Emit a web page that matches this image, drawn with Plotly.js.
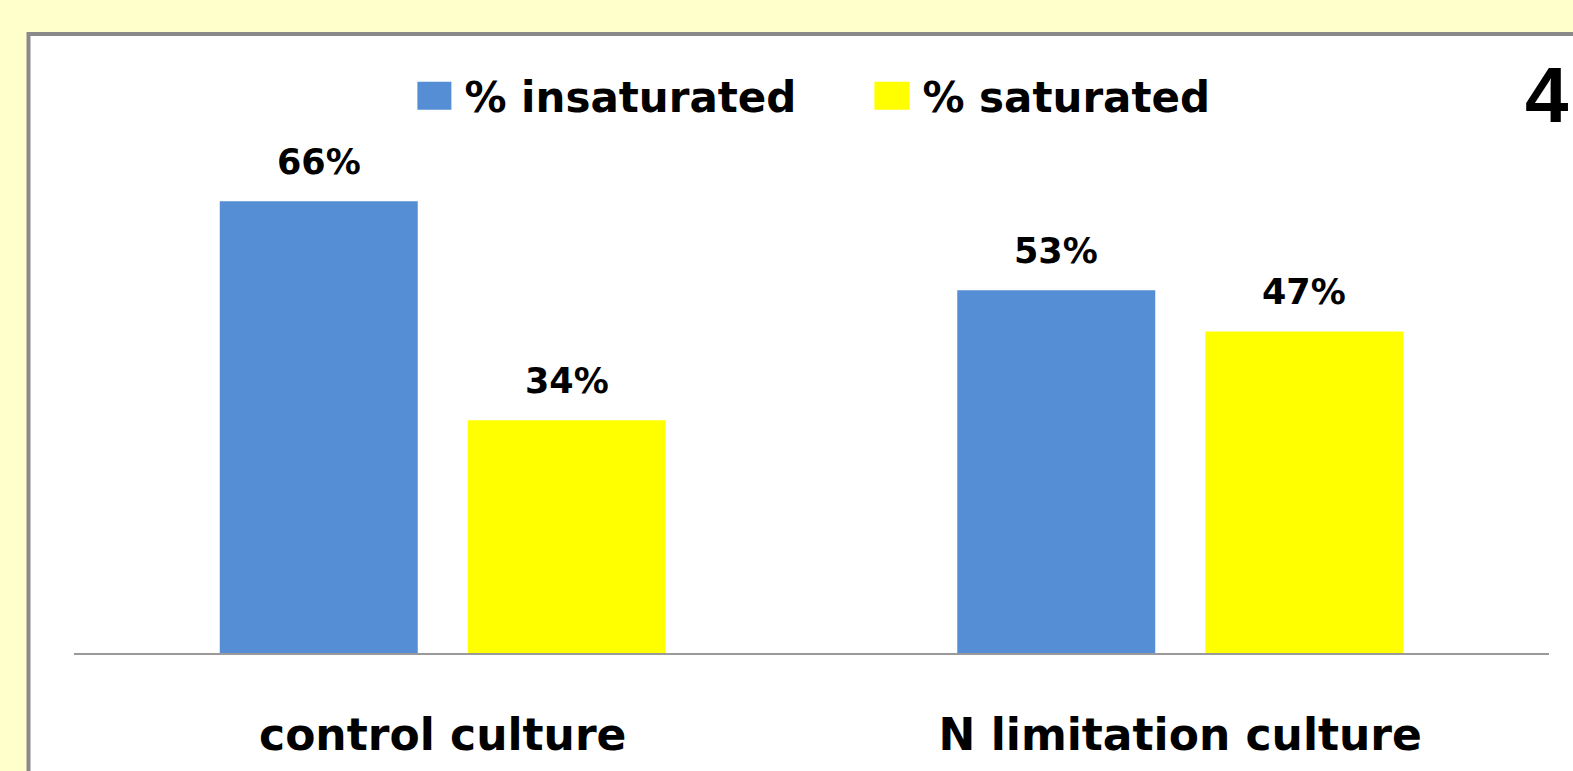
<!DOCTYPE html>
<html>
<head>
<meta charset="utf-8">
<script src="https://cdn.plot.ly/plotly-3.0.1.min.js"></script>
<style>html,body{margin:0;padding:0;background:#FFFFCC;}#chart{width:1573px;height:771px;}</style>
</head>
<body>
<div id="chart"></div>
<script>
const categories = ["control culture", "N limitation culture"];
const seriesNames = ["% insaturated", "% saturated"];
const insaturated = [66, 53];
const saturated = [34, 47];
const colors = ["#558ED5", "#FFFF00"];

const bargap = 0.3275, bargroupgap = 0.2016;
const FONT = "DejaVu Sans, sans-serif";

const seriesValues = [insaturated, saturated];
const traces = seriesValues.map((vals, j) => ({
  type: "bar",
  name: seriesNames[j],
  x: categories,
  y: vals,
  marker: {color: colors[j], line: {width: 0}},
  hoverinfo: "skip"
}));

const slot = (1 - bargap) / seriesValues.length;
const annotations = [];
seriesValues.forEach((vals, j) => {
  vals.forEach((v, i) => {
    annotations.push({
      x: i + (j - (seriesValues.length - 1) / 2) * slot,
      y: v,
      xref: "x", yref: "y",
      text: v + "%",
      showarrow: false,
      yanchor: "bottom",
      yshift: 17,
      font: {family: FONT, size: 35, color: "#000", weight: "bold"}
    });
  });
});
annotations.push({
  xref: "paper", yref: "paper", x: 0.9985, y: 1.165,
  xanchor: "center", yanchor: "middle",
  text: "4", showarrow: false,
  font: {family: "Liberation Sans, Arial, sans-serif", size: 78, color: "#000", weight: "bold"}
});

const layout = {
  width: 1573, height: 771,
  margin: {l: 74, r: 24, t: 174, b: 118, pad: 0},
  paper_bgcolor: "#FFFFCC",
  plot_bgcolor: "rgba(0,0,0,0)",
  barmode: "group",
  bargap: bargap,
  bargroupgap: bargroupgap,
  showlegend: true,
  legend: {
    orientation: "h",
    x: 0.2328, xanchor: "left",
    y: 1.163, yanchor: "middle",
    font: {family: FONT, size: 42, color: "#000", weight: "bold"},
    itemwidth: 37,
    entrywidth: 406,
    entrywidthmode: "pixels",
    bgcolor: "rgba(0,0,0,0)",
    traceorder: "normal"
  },
  xaxis: {
    type: "category",
    showline: true, linecolor: "#9A9A9A", linewidth: 2,
    showgrid: false, zeroline: false,
    ticks: "",
    ticklabelstandoff: 42,
    tickfont: {family: FONT, size: 44, color: "#000", weight: "bold"},
    fixedrange: true
  },
  yaxis: {
    range: [0, 70],
    visible: false,
    showgrid: false, zeroline: false,
    fixedrange: true
  },
  shapes: [{
    type: "rect", xref: "paper", yref: "paper", layer: "below",
    x0: -0.03085, x1: 1.1, y0: -0.4, y1: 1.2923,
    fillcolor: "#FFFFFF",
    line: {color: "#8A8A8A", width: 4}
  }],
  annotations: annotations
};

Plotly.newPlot("chart", traces, layout, {displayModeBar: false, staticPlot: true}).then(gd => {
  gd.querySelectorAll(".legend .legendpoints path").forEach(p => {
    p.setAttribute("d", "M10.5,14H-24.5V-14H10.5Z");
  });
});
</script>
</body>
</html>
